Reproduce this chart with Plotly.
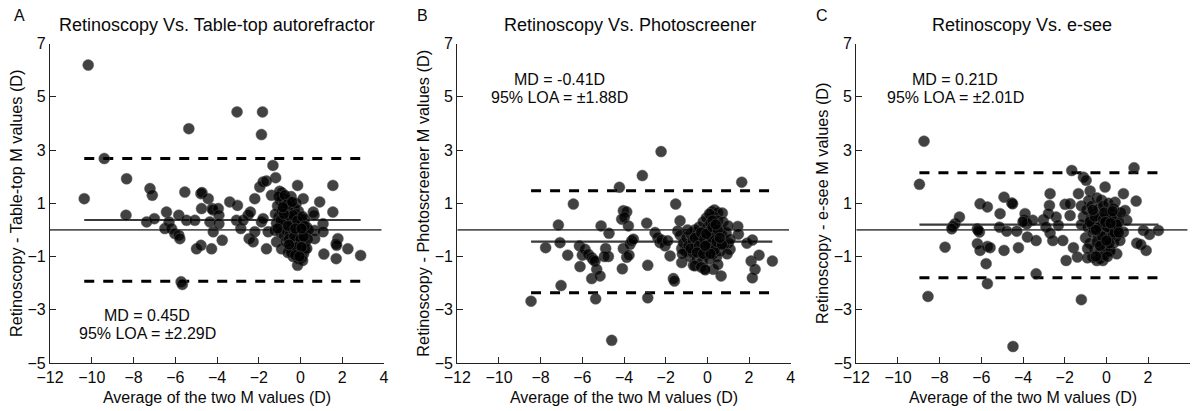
import plotly.graph_objects as go

W, H = 1193, 411

# ---------------- Data ----------------
panel_letters = ["A", "B", "C"]
panel_titles = ["Retinoscopy Vs. Table-top autorefractor",
                "Retinoscopy Vs. Photoscreener",
                "Retinoscopy Vs. e-see"]
y_titles = ["Retinoscopy - Table-top M values (D)",
            "Retinoscopy - Photoscreener M values (D)",
            "Retinoscopy - e-see M values (D)"]
x_title = "Average of the two M values (D)"
md_texts = ["MD = 0.45D", "MD = -0.41D", "MD = 0.21D"]
loa_texts = ["95% LOA = ±2.29D", "95% LOA = ±1.88D", "95% LOA = ±2.01D"]

x_ticks = [-12, -10, -8, -6, -4, -2, 0, 2, 4]
y_ticks = [-5, -3, -1, 1, 3, 5, 7]

# Panel A: average (x) and difference (y)
a_avg = [-10.17, -9.40, -5.35, -3.04, -1.82, -1.87, -5.72, -5.66,
         -10.36, -8.33, -8.36, -7.21, -7.10, -7.37, -7.00, -6.42, -6.50, -6.30, -6.18, -6.02,
         -5.83, -5.78, -5.83, -5.54, -5.46, -5.06, -4.98, -4.77, -4.77, -4.72, -4.74, -4.42,
         -4.34, -4.23, -4.20, -4.18, -4.26, -3.94, -3.91, -3.91, -3.75, -3.39, -3.02, -3.07,
         -2.86, -2.75, -2.51, -2.40, -2.46, -2.27, -2.19, -2.19, -1.95, -1.79, -1.32, -1.19,
         -1.63, -1.87, -1.79, -1.55, -1.39, -1.23, -1.15, -0.91, -0.14, 0.13, -0.14, 0.05,
         0.21, 0.61, 0.65, 0.68, 0.68, 0.92, 1.08, 1.08, 1.12, 1.55, 1.55, 1.79, 1.71, 1.73,
         1.71, 2.27, 2.88, -1.63,
         -1.00, -0.90, -0.85, -0.95, -1.10, -0.80, -0.70, -0.60, -0.50, -1.20, -1.05, -0.90,
         -0.75, -0.60, -0.45, -0.30, -0.20, -0.10, 0.00, -1.15, -1.00, -0.85, -0.70, -0.55,
         -0.40, -0.25, -0.10, 0.05, 0.20, 0.30, -0.95, -0.80, -0.65, -0.50, -0.35, -0.20,
         -0.05, 0.10, 0.25, 0.40, -0.70, -0.55, -0.40, -0.25, -0.10, 0.05, 0.20, 0.35,
         -0.50, -0.30, -0.15, 0.00, 0.15, -0.35, -0.10, 0.10, -0.60, 0.30, -0.45, -0.20,
         -1.05, -0.75, -0.65, -0.40, -0.95, -0.50, -0.35, -0.15, 0.10, -0.60, -0.30, 0.00,
         0.15, -0.45, -0.20, 0.05, -0.25, -0.05, -0.80, -1.10, 0.20, -0.55, -0.85, -0.25, 0.05]
a_diff = [6.19, 2.68, 3.80, 4.43, 4.43, 3.58, -1.95, -2.05,
          1.17, 1.92, 0.55, 1.55, 1.30, 0.30, 0.42, 0.67, 0.05, 0.30, 0.05, -0.14,
          -0.20, -0.33, 0.55, 1.42, 0.36, 0.36, -0.71, -0.58, 1.36, 1.40, 0.80, 1.17,
          0.30, 0.80, 0.75, -0.07, -0.71, 0.80, 0.55, 0.23, -0.39, 1.05, 0.92, 0.36,
          0.05, 0.36, 0.55, 0.67, -0.33, -0.45, -0.07, 1.17, 1.61, 1.80, 2.42, 1.96,
          -0.71, 0.30, 0.42, -0.07, 1.30, -0.02, -0.45, -0.71, 1.67, 1.17, -1.33, -1.04,
          -0.73, 0.67, 0.55, -0.02, -0.33, 1.05, 0.23, -0.07, -0.91, 1.67, 0.67, -0.33, -0.52, -0.58,
          -1.08, -0.71, -0.96, 1.84,
          1.45, 1.40, 1.20, 1.10, 0.90, 1.00, 0.85, 1.10, 0.90, 0.60, 0.50, 0.70,
          0.55, 0.60, 0.70, 0.80, 0.55, 0.70, 0.40, 0.25, 0.15, 0.30, 0.20, 0.35,
          0.20, 0.35, 0.15, 0.25, 0.40, 0.10, -0.10, -0.20, -0.05, -0.15, 0.00, -0.10,
          -0.20, -0.05, -0.15, 0.00, -0.45, -0.35, -0.50, -0.40, -0.55, -0.45, -0.50, -0.35,
          -0.70, -0.75, -0.85, -0.80, -0.90, -1.00, -1.10, -1.15, -0.85, -0.70, 1.25, 1.00,
          1.25, 1.30, 0.95, 1.05, 0.35, 0.50, 0.55, 0.35, 0.50, 0.15, -0.25, -0.35,
          -0.25, -0.85, -0.65, -0.65, -0.95, -1.00, 0.60, 0.05, 0.15, -0.55, 0.85, 0.05, 0.05]

# Panel B
b_avg = [-8.46, -7.76, -7.15, -7.07, -7.02, -6.43, -6.70, -6.14, -6.11, -6.00, -5.87, -5.71,
         -5.55, -5.47, -5.39, -5.31, -5.55, -5.15, -5.36, -5.10, -4.88, -4.75, -4.72, -4.94,
         -4.03, -3.87, -4.11, -3.98, -3.79, -4.08, -4.03, -3.87, -3.76, -3.71, -3.63, -3.55,
         -4.22, -3.12, -2.91, -2.86, -2.86, -2.51, -2.38, -2.27, -2.19, -2.03, -1.90, -1.79,
         -1.52, -1.31, -1.42, -1.63, -1.58, -1.23, -1.23, -0.67, -0.14, 0.29, 0.66, -0.59,
         0.21, 0.34, 0.50, 0.72, 1.46, 1.49, 1.09, 1.01, 1.90, 2.16, 2.10, 2.48, 3.12, 2.29,
         2.16, 1.65, -2.22, -4.59,
         -1.30, -1.15, -1.00, -1.05, -0.90, -0.85, -0.80, -0.70, -0.70, -0.60, -0.55, -0.50,
         -0.45, -0.40, -0.35, -0.30, -0.25, -0.20, -0.20, -0.15, -0.10, -0.05, 0.00, 0.00,
         0.05, 0.10, 0.15, 0.15, 0.20, 0.25, 0.30, 0.30, 0.35, 0.40, 0.45, 0.50, 0.55, 0.60,
         0.60, 0.70, 0.75, 0.80, 0.90, 0.95, 1.00, 1.10, -0.60, -0.30, 0.10, 0.50, -0.95,
         -1.20, 0.25, -0.10,
         -0.80, -0.60, -0.40, -0.30, -0.15, 0.05, 0.20, 0.35, 0.45, 0.10, -0.05, 0.25,
         0.50, 0.70, -0.50, -0.20, 0.15, -0.10, 0.40, 0.60]
b_diff = [-2.68, -0.67, 0.18, -0.48, -2.09, 0.97, -0.95, -0.60, -1.38, -0.95, -0.73, -0.92,
          -1.04, -1.13, -1.17, -1.48, -1.83, -1.73, -2.59, 0.15, -0.70, -1.00, -0.13, -1.00,
          0.72, 0.68, 0.40, 0.47, 0.15, -1.46, -0.70, -1.03, -0.95, -0.54, -0.41, -0.35,
          1.60, 2.04, 0.25, -1.33, -2.55, -0.10, -0.29, -0.48, -0.38, -0.60, -0.41, -0.98,
          0.97, 0.34, -0.04, -1.83, -1.92, -0.70, -1.23, -1.33, -1.46, -1.48, -1.73, -0.10,
          0.68, 0.75, 0.65, 0.63, 0.13, -0.16, -0.73, -0.50, -0.50, -0.38, -1.17, -0.95, -1.17, -1.48,
          -1.80, 1.79, 2.94, -4.15,
          -0.20, -0.50, -0.30, -0.80, -0.60, -1.00, -0.15, -0.40, -0.85, 0.00, -0.60, -1.10,
          -0.25, 0.10, -0.80, -0.45, -1.20, 0.30, -0.10, -0.65, -0.95, 0.45, -0.30, 0.10,
          -0.75, -1.10, 0.25, -0.45, -0.15, -0.90, 0.50, -0.60, 0.05, -0.30, -1.00, 0.35, -0.50, 0.00,
          -0.80, -0.20, 0.30, -0.55, -0.10, -0.90, 0.15, -0.35, -1.35, -1.40, 0.60, -1.30, 0.00,
          -0.90, 0.35, -1.50,
          -0.70, -0.30, -0.60, -0.10, -0.35, -0.55, -0.30, -0.75, -0.45, -0.05, -0.15, 0.10,
          0.00, -0.55, -0.85, -0.90, -0.90, -0.60, 0.20, -0.30]

# Panel C
c_avg = [-8.75, -8.97, -8.56, -7.74, -7.37, -7.26, -7.05, -7.42, -6.06, -5.71, -6.19, -6.09,
         -6.15, -6.19, -6.06, -5.71, -5.58, -5.77, -5.71, -5.10, -4.91, -4.54, -4.50, -5.13,
         -4.78, -4.91, -4.30, -4.22, -3.95, -3.90, -3.82, -4.00, -3.79, -3.53, -3.37, -3.37,
         -3.02, -2.70, -2.73, -2.78, -2.90, -2.70, -2.57, -2.41, -2.30, -2.09, -1.98, -1.74,
         -1.93, -1.66, -1.74, -1.58, -1.39, -1.34, -1.10, -0.97, -0.78, -0.06, -0.22, 0.42,
         0.82, 0.90, 0.98, 1.43, 1.33, 0.47, 0.82, 0.50, 0.15, -0.65, -0.46, -0.17, -0.30,
         -0.91, 1.78, 2.07, 2.50, 1.46, 1.65, 1.91, -1.20, -4.48,
         -1.20, -1.10, -1.20, -1.00, -0.95, -0.90, -0.85, -0.80, -0.75, -0.70, -0.65, -0.60,
         -0.55, -0.50, -0.45, -0.40, -0.35, -0.30, -0.30, -0.25, -0.20, -0.15, -0.10, -0.10,
         -0.05, 0.00, 0.00, 0.05, 0.10, 0.10, 0.15, 0.20, 0.20, 0.25, 0.30, 0.35, 0.35, 0.40,
         0.45, 0.50, 0.55, 0.60, 0.65, 0.70, -0.60, -0.90, -0.40, -0.20, 0.05, -0.50, 0.30, -0.70,
         -0.80, -0.55, -0.35, -0.15, 0.05, 0.25, 0.40, -0.45, -0.20, 0.15, -0.10, 0.30,
         -0.65, 0.50, -0.30, 0.00, -0.05, 0.20, -0.50, 0.60]
c_diff = [3.33, 1.71, -2.50, -0.65, 0.13, 0.23, 0.48, 0.04, 0.98, 0.86, 0.04, -0.08,
          -0.02, -0.52, -0.77, -0.62, -0.67, -1.27, -2.02, 0.61, 1.23, 1.01, 0.98, 0.10,
          -0.05, -0.77, -0.05, -0.67, 0.36, 0.61, 0.23, 0.30, -0.27, 0.36, -0.40, -1.65,
          0.38, 1.36, 0.92, 0.61, 0.11, -0.12, -0.40, 0.48, 0.17, -0.40, 0.96, 0.98,
          -1.15, 2.23, 0.54, -0.67, -1.02, 1.36, 1.98, 1.86, 1.46, 1.61, 1.11, 1.04,
          1.36, 0.73, 0.36, 1.08, 2.33, 0.17, -0.08, -0.90, -0.77, -1.02, -1.15, -1.15, -1.09,
          -1.05, -0.02, -0.17, -0.02, -0.50, -0.55, -0.77, -2.62, -4.38,
          0.90, 0.50, 0.20, -0.30, 0.75, 0.10, 1.10, -0.50, 0.40, 0.90, -0.10, 0.60,
          -0.70, 0.20, 1.20, -0.30, 0.80, 0.00, -0.85, 0.45, -0.50, 0.90, 0.15, -0.95,
          -0.20, 0.55, -0.65, 0.30, -0.35, 1.00, 0.05, 0.65, -0.80, -0.10, 0.35, -0.50, 0.80, 0.10,
          -0.25, 0.50, 0.00, 0.30, -0.40, 0.65, 0.00, -0.70, 0.35, 0.20, -1.00, -1.00, -0.20, 0.20,
          0.30, 0.50, 0.10, 0.40, 0.10, 0.45, -0.10, -0.45, -0.25, -0.50, 0.65, 0.70,
          0.75, 0.20, -0.60, -0.40, 0.30, 0.25, 0.00, -0.10]

# Bland-Altman reference lines (as drawn): mean difference, upper and lower limits
md_values = [0.37, -0.44, 0.20]
upper_loa = [2.68, 1.47, 2.15]
lower_loa = [-1.93, -2.36, -1.80]
zero_line_x = [[-12, 3.88], [-12, 3.92], [-12, 3.89]]

avgs = [a_avg, b_avg, c_avg]
diffs = [a_diff, b_diff, c_diff]

# ---------------- Layout geometry ----------------
x_domains = [[50 / W, 384 / W], [457.3 / W, 790.7 / W], [856.3 / W, 1189.7 / W]]
y_domain = [(H - 363) / H, (H - 43.5) / H]

FONT = "Liberation Sans, Arial, sans-serif"
TXT = "#0a0a0a"
fig = go.Figure()

for i in range(3):
    xa = "x" if i == 0 else f"x{i+1}"
    ya = "y" if i == 0 else f"y{i+1}"
    xs, ys = avgs[i], diffs[i]
    x0, x1 = min(xs), max(xs)
    # zero line
    fig.add_trace(go.Scatter(x=zero_line_x[i], y=[0, 0], mode="lines",
                             line=dict(color="#555555", width=1.6),
                             xaxis=xa, yaxis=ya, showlegend=False, hoverinfo="skip"))
    # mean difference line
    fig.add_trace(go.Scatter(x=[x0, x1], y=[md_values[i]] * 2, mode="lines",
                             line=dict(color="#3a3a3a", width=2.2),
                             xaxis=xa, yaxis=ya, showlegend=False, hoverinfo="skip"))
    # limits of agreement
    for v in (upper_loa[i], lower_loa[i]):
        fig.add_trace(go.Scatter(x=[x0, x1], y=[v, v], mode="lines",
                                 line=dict(color="black", width=3, dash="10px,9px"),
                                 xaxis=xa, yaxis=ya, showlegend=False, hoverinfo="skip"))
    # points
    fig.add_trace(go.Scatter(x=xs, y=ys, mode="markers",
                             marker=dict(size=11, color="rgba(0,0,0,0.74)",
                                         line=dict(color="rgba(90,90,90,0.6)", width=0.8)),
                             xaxis=xa, yaxis=ya, showlegend=False))

axis_common = dict(showline=True, linecolor="#222222", linewidth=1.3, ticks="inside",
                   ticklen=6, tickwidth=1.3, tickcolor="#222222", showgrid=False,
                   zeroline=False, automargin=False,
                   tickfont=dict(family=FONT, size=16, color=TXT))

layout = dict(width=W, height=H, margin=dict(l=0, r=0, t=0, b=0),
              paper_bgcolor="white", plot_bgcolor="white",
              font=dict(family=FONT, color=TXT))
for i in range(3):
    xk = "xaxis" if i == 0 else f"xaxis{i+1}"
    yk = "yaxis" if i == 0 else f"yaxis{i+1}"
    ya = "y" if i == 0 else f"y{i+1}"
    xa = "x" if i == 0 else f"x{i+1}"
    layout[xk] = dict(axis_common, domain=x_domains[i], range=[-12, 4], tickvals=x_ticks,
                      anchor=ya,
                      title=dict(text=x_title, standoff=6,
                                 font=dict(family=FONT, size=16, color=TXT)))
    layout[yk] = dict(axis_common, domain=y_domain, range=[-5, 7], tickvals=y_ticks,
                      anchor=xa,
                      title=dict(text=y_titles[i], standoff=0,
                                 font=dict(family=FONT, size=16.3, color=TXT)))
fig.update_layout(**layout)

# titles, panel letters and statistics text
title_cx = [217, 630, 1022]
letter_cx = [19, 422, 822]
md_cx = [147.3, 559, 955]
md_cy = [315, 79, 79]
loa_cy = [333, 98, 98]
for i in range(3):
    fig.add_annotation(x=title_cx[i] / W, y=1 - 25 / H, xref="paper", yref="paper",
                       text=panel_titles[i], showarrow=False, xanchor="center", yanchor="middle",
                       font=dict(family=FONT, size=18, color=TXT))
    fig.add_annotation(x=letter_cx[i] / W, y=1 - 16 / H, xref="paper", yref="paper",
                       text=panel_letters[i], showarrow=False, xanchor="center", yanchor="middle",
                       font=dict(family=FONT, size=16, color=TXT))
    fig.add_annotation(x=md_cx[i] / W, y=1 - md_cy[i] / H, xref="paper", yref="paper",
                       text=md_texts[i], showarrow=False, xanchor="center", yanchor="middle",
                       font=dict(family=FONT, size=16, color=TXT))
    fig.add_annotation(x=md_cx[i] / W, y=1 - loa_cy[i] / H, xref="paper", yref="paper",
                       text=loa_texts[i], showarrow=False, xanchor="center", yanchor="middle",
                       font=dict(family=FONT, size=16, color=TXT))

# remove the browser's default 8px page margin so the figure sits at the window origin
fig.write_html("out.html", config={"displayModeBar": False},
               post_script="document.body.style.margin='0px';")
